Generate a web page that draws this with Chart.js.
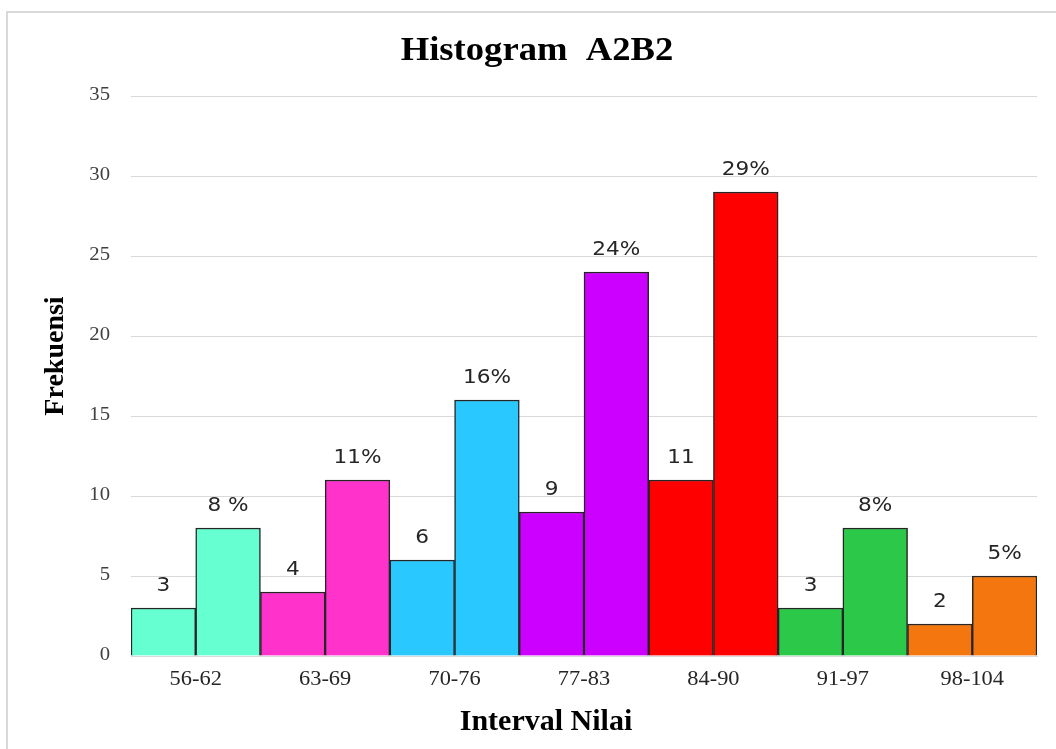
<!DOCTYPE html>
<html>
<head>
<meta charset="utf-8">
<script src="https://cdn.jsdelivr.net/npm/chart.js@4.4.1/dist/chart.umd.min.js"></script>
<style>
  html, body { margin: 0; padding: 0; background: #ffffff; }
  #wrap { position: relative; width: 1056px; height: 749px; overflow: hidden; }
  #frame { position: absolute; left: 6px; top: 11px; width: 1200px; height: 900px;
           border-left: 2px solid #d9d9d9; border-top: 2px solid #d9d9d9; }
  #chart { position: absolute; left: 0; top: 0; }
</style>
</head>
<body>
<div id="wrap">
  <div id="frame"></div>
  <canvas id="chart" width="1056" height="749"></canvas>
</div>
<script>
// Score intervals
const intervals = ['56-62', '63-69', '70-76', '77-83', '84-90', '91-97', '98-104'];
// Number of students in each interval
const frequency = [3, 4, 6, 9, 11, 3, 2];
// Share of students in each interval (percent)
const percent = [8, 11, 16, 24, 29, 8, 5];
// Fill colour for each interval
const intervalColors = ['#66FFD1', '#FF33CC', '#29C8FF', '#CC00FF', '#FF0000', '#2BC84A', '#F4760E'];
// Y axis ticks
const yTicks = [0, 5, 10, 15, 20, 25, 30, 35];

const freqText = frequency.map(v => String(v));
const pctText = percent.map((v, i) => i === 0 ? v + ' %' : v + '%');

const serif = "'Liberation Serif', 'Times New Roman', serif";

// Draws text with a horizontal stretch factor
function stretchedText(ctx, text, x, y, font, sx, align, baseline, color) {
  ctx.save();
  ctx.translate(x, y);
  ctx.scale(sx, 1);
  ctx.font = font;
  ctx.fillStyle = color;
  ctx.textAlign = align;
  ctx.textBaseline = baseline;
  ctx.fillText(text, 0, 0);
  ctx.restore();
}

// Tick labels placed from the chart's own scales
const tickLabels = {
  id: 'tickLabels',
  afterDraw(chart) {
    const ctx = chart.ctx;
    const xs = chart.scales.x, ys = chart.scales.y;
    yTicks.forEach(v => {
      stretchedText(ctx, String(v), ys.right - 21, ys.getPixelForValue(v) - 1,
        '18px ' + serif, 1.15, 'right', 'middle', '#404040');
    });
    intervals.forEach((lab, i) => {
      stretchedText(ctx, lab, xs.getPixelForValue(i), xs.top + 24,
        '20px ' + serif, 1.12, 'center', 'middle', '#262626');
    });
  }
};

// Values printed above every bar
const valueLabels = {
  id: 'valueLabels',
  afterDatasetsDraw(chart) {
    const ctx = chart.ctx;
    const texts = [freqText, pctText];
    chart.data.datasets.forEach((ds, di) => {
      const meta = chart.getDatasetMeta(di);
      meta.data.forEach((bar, i) => {
        stretchedText(ctx, texts[di][i], bar.x, bar.y - 17,
          "20px 'DejaVu Sans', sans-serif", 1.08, 'center', 'alphabetic', '#262626');
      });
    });
  }
};

// Chart heading and axis captions
const captions = {
  id: 'captions',
  afterDraw(chart) {
    const ctx = chart.ctx;
    stretchedText(ctx, 'Histogram  A2B2', 537, 60, 'bold 33px ' + serif, 1.11, 'center', 'alphabetic', '#000000');
    stretchedText(ctx, 'Interval Nilai', 546, 730, 'bold 30px ' + serif, 1.0, 'center', 'alphabetic', '#000000');
    ctx.save();
    ctx.translate(56, 356);
    ctx.rotate(-Math.PI / 2);
    ctx.font = 'bold 28px ' + serif;
    ctx.fillStyle = '#000000';
    ctx.textAlign = 'center';
    ctx.textBaseline = 'middle';
    ctx.fillText('Frekuensi', 0, 0);
    ctx.restore();
  }
};

new Chart(document.getElementById('chart'), {
  type: 'bar',
  data: {
    labels: intervals,
    datasets: [
      {
        label: 'Frekuensi',
        data: frequency,
        backgroundColor: intervalColors,
        borderColor: '#262626',
        borderWidth: 1.5,
        categoryPercentage: 1,
        barPercentage: 1
      },
      {
        label: 'Persentase',
        data: percent,
        backgroundColor: intervalColors,
        borderColor: '#262626',
        borderWidth: 1.5,
        categoryPercentage: 1,
        barPercentage: 1
      }
    ]
  },
  options: {
    responsive: false,
    animation: false,
    layout: { padding: { left: 0, right: 19, top: 96, bottom: 0 } },
    plugins: {
      legend: { display: false },
      tooltip: { enabled: false },
      title: { display: false }
    },
    scales: {
      x: {
        grid: { display: false, drawTicks: false },
        border: { display: true, color: '#d9d9d9', width: 1 },
        ticks: { display: false },
        afterFit(scale) { scale.height = 93; }
      },
      y: {
        min: 0,
        max: 35,
        afterBuildTicks(scale) { scale.ticks = yTicks.map(v => ({ value: v })); },
        grid: { color: '#d9d9d9', lineWidth: 1, drawTicks: false },
        border: { display: false },
        ticks: { display: false },
        afterFit(scale) { scale.width = 131; }
      }
    }
  },
  plugins: [valueLabels, tickLabels, captions]
});
</script>
</body>
</html>
